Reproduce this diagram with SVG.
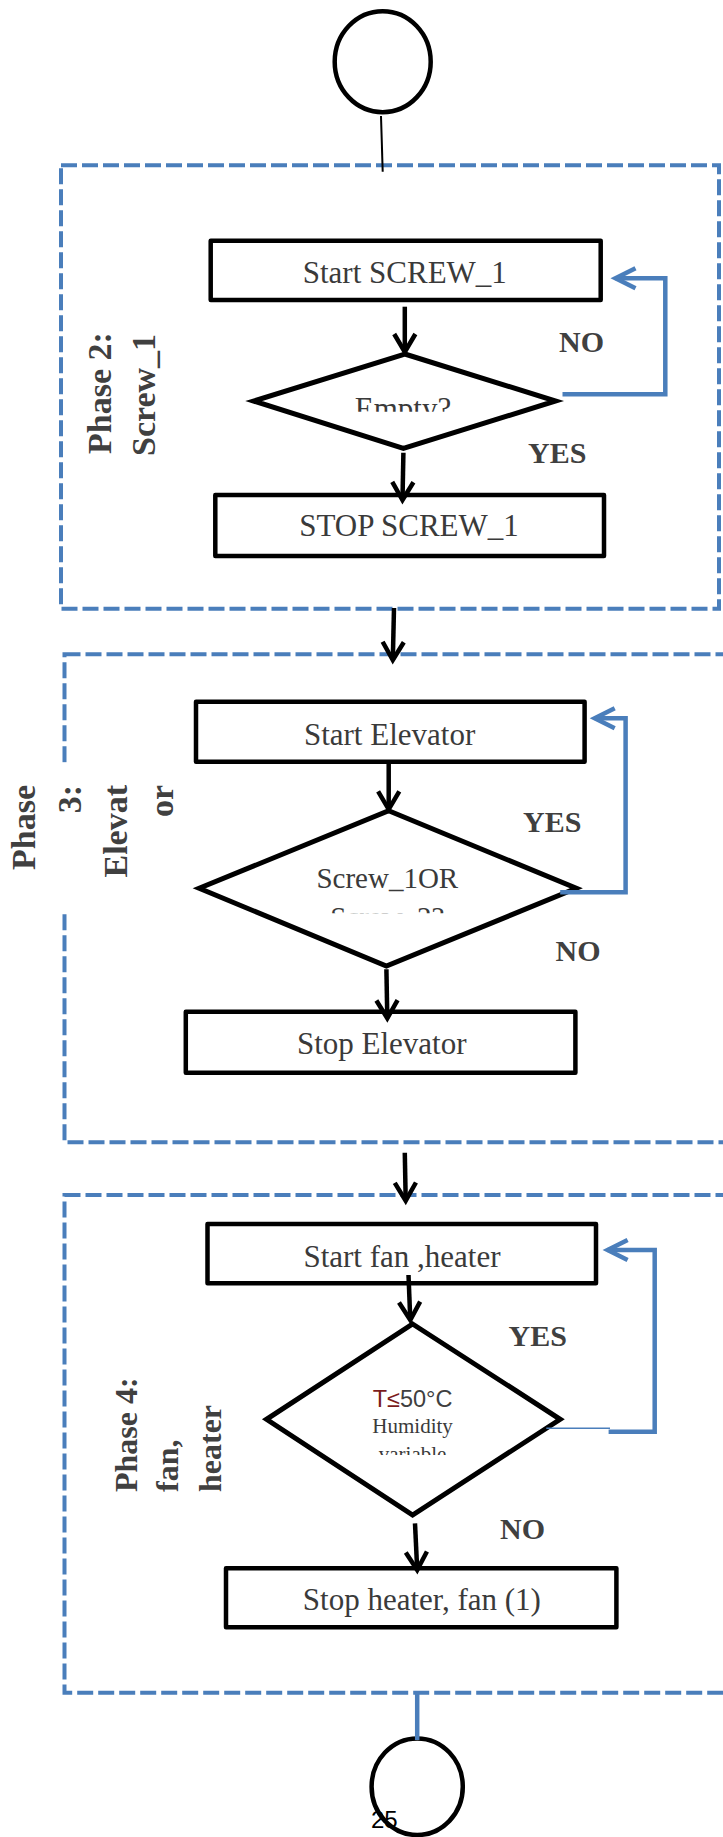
<svg xmlns="http://www.w3.org/2000/svg" width="723" height="1837" viewBox="0 0 723 1837">
  <defs>
    <style>
      .phase{fill:none;stroke:#4a7ebb;stroke-width:4;stroke-dasharray:16 5}
      .box{fill:#fff;stroke:#000;stroke-width:4.5;stroke-linejoin:round}
      .dec{fill:#fff;stroke:#000;stroke-width:5;stroke-linejoin:miter}
      .term{fill:#fff;stroke:#000;stroke-width:4.5}
      .flow{fill:none;stroke:#000;stroke-width:4.5;marker-end:url(#ah)}
      .loop{fill:none;stroke:#4a7ebb;stroke-width:4.5;marker-end:url(#ahb)}
      .t{font-family:"Liberation Serif","Times New Roman",serif;font-size:31px;fill:#3a3a3a;text-anchor:middle}
      .lab{font-family:"Liberation Serif","Times New Roman",serif;font-weight:bold;font-size:30px;fill:#404040}
      .side{font-family:"Liberation Serif","Times New Roman",serif;font-weight:bold;font-size:34px;fill:#404040}
      .sans{font-family:"Liberation Sans",Arial,sans-serif}
    </style>
    <marker id="ah" markerUnits="userSpaceOnUse" orient="auto" refX="0" refY="0" markerWidth="1" markerHeight="1" style="overflow:visible">
      <path d="M-18,-10.6 L0,0 L-18,10.6" fill="none" stroke="#000" stroke-width="4.5" stroke-linejoin="miter"/>
    </marker>
    <marker id="ahb" markerUnits="userSpaceOnUse" orient="auto" refX="0" refY="0" markerWidth="1" markerHeight="1" style="overflow:visible">
      <path d="M-20,-10 L0,0 L-20,10" fill="none" stroke="#4a7ebb" stroke-width="4.5" stroke-linejoin="miter"/>
    </marker>
    <clipPath id="clipEmpty"><rect x="250" y="380" width="310" height="31.7"/></clipPath>
    <clipPath id="clipScrew2"><rect x="200" y="895" width="380" height="18.3"/></clipPath>
    <clipPath id="clipVar"><rect x="270" y="1440" width="290" height="15"/></clipPath>
  </defs>

  <!-- phase frames -->
  <g id="phase2">
    <rect class="phase" x="61" y="165.3" width="658" height="443.5"/>
    <text class="side" transform="translate(111,454) rotate(-90)">Phase 2:</text>
    <text class="side" transform="translate(155,456) rotate(-90)">Screw_1</text>
  </g>
  <g id="phase3">
    <rect class="phase" x="64.5" y="654.3" width="700" height="488"/>
    <rect x="2" y="762.7" width="178" height="150.6" fill="#fff"/>
    <text class="side" text-anchor="end" transform="translate(34.6,785) rotate(-90)">Phase</text>
    <text class="side" text-anchor="end" transform="translate(80.5,785) rotate(-90)">3:</text>
    <text class="side" text-anchor="end" transform="translate(126.8,785) rotate(-90)">Elevat</text>
    <text class="side" text-anchor="end" transform="translate(173,785) rotate(-90)">or</text>
  </g>
  <g id="phase4">
    <rect class="phase" x="64.5" y="1195" width="700" height="497.7"/>
    <text class="side" style="font-size:32px" transform="translate(137,1492) rotate(-90)">Phase 4:</text>
    <text class="side" style="font-size:32px" transform="translate(178,1492) rotate(-90)">fan,</text>
    <text class="side" style="font-size:32px" transform="translate(221,1492) rotate(-90)">heater</text>
  </g>

  <!-- terminators -->
  <g id="start">
    <ellipse class="term" cx="382.7" cy="61.7" rx="48" ry="50.5"/>
  </g>
  <g id="end">
    <ellipse class="term" cx="417.2" cy="1786.7" rx="45.6" ry="48.3"/>
  </g>

  <!-- phase 2 steps -->
  <g id="start_screw1">
    <rect class="box" x="210.7" y="240.7" width="390" height="59.3"/>
    <text class="t" x="404.8" y="282.7">Start SCREW_1</text>
  </g>
  <g id="empty_check">
    <polygon class="dec" points="404.8,354 555.6,401 403.4,448.3 253.6,401"/>
    <text class="t" x="403" y="419" clip-path="url(#clipEmpty)">Empty?</text>
  </g>
  <g id="stop_screw1">
    <rect class="box" x="215.3" y="495" width="388.7" height="61"/>
    <text class="t" x="409" y="536">STOP SCREW_1</text>
  </g>

  <!-- phase 3 steps -->
  <g id="start_elevator">
    <rect class="box" x="196" y="701.7" width="388.6" height="60"/>
    <text class="t" x="389.6" y="745">Start Elevator</text>
  </g>
  <g id="screw_check">
    <polygon class="dec" points="388.7,810.7 576.3,888.3 386.4,966 199.2,888.3"/>
    <text class="t" style="font-size:29px" x="387.3" y="888.3">Screw_1OR</text>
    <text class="t" style="font-size:29px" x="387.3" y="927" clip-path="url(#clipScrew2)">Screw_2?</text>
  </g>
  <g id="stop_elevator">
    <rect class="box" x="185.8" y="1011.7" width="389.6" height="61"/>
    <text class="t" x="381.7" y="1054.3">Stop Elevator</text>
  </g>

  <!-- phase 4 steps -->
  <g id="start_fan_heater">
    <rect class="box" x="207.5" y="1224" width="388.5" height="59.3"/>
    <text class="t" x="402" y="1266.7">Start fan ,heater</text>
  </g>
  <g id="temp_check">
    <polygon class="dec" points="412.6,1324 560.2,1419.3 412.6,1515 266.5,1419.3"/>
    <text class="sans" x="412.6" y="1406.7" font-size="23.5" text-anchor="middle" fill="#404040"><tspan fill="#7b1c1c">T≤</tspan>50°C</text>
    <text class="t" style="font-size:21px" x="412.6" y="1433.3">Humidity</text>
    <text class="t" style="font-size:21px" x="412.6" y="1461" clip-path="url(#clipVar)">variable</text>
  </g>
  <g id="stop_heater_fan">
    <rect class="box" x="226" y="1568.3" width="390.4" height="59"/>
    <text class="t" x="421.9" y="1610">Stop heater, fan (1)</text>
  </g>

  <!-- branch labels -->
  <g id="labels">
    <text class="lab" x="559" y="352.3">NO</text>
    <text class="lab" x="528" y="463.3">YES</text>
    <text class="lab" x="523" y="831.7">YES</text>
    <text class="lab" x="555.6" y="960.7">NO</text>
    <text class="lab" x="508.5" y="1345.7">YES</text>
    <text class="lab" x="500" y="1539">NO</text>
  </g>

  <!-- connectors -->
  <g id="connectors">
    <path d="M381,116 L382.7,171.7" fill="none" stroke="#000" stroke-width="2"/>
    <path class="flow" d="M404.8,306.7 L404.8,352"/>
    <path class="flow" d="M403.4,452.7 L402.5,500"/>
    <path class="loop" d="M562.5,394.3 L665.3,394.3 L665.3,278.3 L615.5,278.3"/>
    <path class="flow" d="M394,608 L392.8,660"/>
    <path class="flow" d="M388.7,763.3 L388.7,809.3"/>
    <path class="loop" d="M560.2,892.3 L625.6,892.3 L625.6,718.3 L594.7,718.3"/>
    <path class="flow" d="M386.4,969.3 L387.3,1018.3"/>
    <path class="flow" d="M404.8,1152.7 L405.7,1200.7"/>
    <path class="flow" d="M408.5,1275 L410.3,1320"/>
    <path d="M546.3,1428.3 L610,1428.3" fill="none" stroke="#4a7ebb" stroke-width="1.5"/>
    <path class="loop" d="M608.6,1431.7 L654.7,1431.7 L654.7,1250 L607.6,1250"/>
    <path class="flow" d="M415,1523.3 L417.2,1570"/>
    <path d="M417.2,1692.7 L417.2,1740" fill="none" stroke="#4a7ebb" stroke-width="4.5"/>
  </g>

  <text class="sans" x="371" y="1828" font-size="24" fill="#000">25</text>
</svg>
